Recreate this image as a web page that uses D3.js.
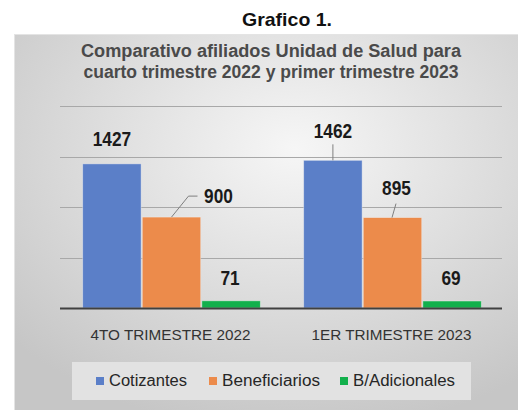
<!DOCTYPE html>
<html>
<head>
<meta charset="utf-8">
<script src="https://cdn.jsdelivr.net/npm/d3@7"></script>
<style>
  body { margin: 0; background: #fff; }
  text { font-family: "Liberation Sans", Arial, sans-serif; }
  .narrow { font-family: "Liberation Sans Narrow", "Arial Narrow", "Liberation Sans", sans-serif; }
</style>
</head>
<body>
<div id="chart"></div>
<script>
// Data
var categories = ["4TO TRIMESTRE 2022", "1ER TRIMESTRE 2023"];
var series = ["Cotizantes", "Beneficiarios", "B/Adicionales"];
var cotizantes = [1427, 1462];
var beneficiarios = [900, 895];
var adicionales = [71, 69];
var yTicks = [0, 500, 1000, 1500, 2000];
var colors = ["#5b7fc8", "#ec8b4b", "#12b04c"];

var width = 518, height = 410;

var svg = d3.select("#chart").append("svg")
    .attr("width", width)
    .attr("height", height);

// Background gradient
var defs = svg.append("defs");
var grad = defs.append("radialGradient")
    .attr("id", "bg")
    .attr("cx", "55%").attr("cy", "30%").attr("r", "75%");
grad.append("stop").attr("offset", "0%").attr("stop-color", "#f6f6f6");
grad.append("stop").attr("offset", "100%").attr("stop-color", "#c6c6c6");

svg.append("rect")
    .attr("x", 14.5).attr("y", 34.5)
    .attr("width", 510).attr("height", 380)
    .attr("fill", "url(#bg)")
    .attr("stroke", "#e4e4e4");

// Titles
svg.append("text")
    .attr("class", "narrow")
    .attr("x", 287).attr("y", 26)
    .attr("text-anchor", "middle")
    .attr("textLength", 90)
    .attr("lengthAdjust", "spacingAndGlyphs")
    .style("font-weight", "bold").style("font-size", "19px")
    .attr("fill", "#111")
    .text("Grafico 1.");

var t1 = ["Comparativo afiliados Unidad de Salud para",
          "cuarto trimestre 2022 y primer trimestre 2023"];
svg.selectAll(".ttl").data(t1).enter().append("text")
    .attr("class", "ttl narrow")
    .attr("x", 271)
    .attr("y", function (d, i) { return 57 + i * 21; })
    .attr("text-anchor", "middle")
    .attr("textLength", function (d, i) { return i === 0 ? 380 : 375; })
    .attr("lengthAdjust", "spacingAndGlyphs")
    .style("font-weight", "bold").style("font-size", "18px")
    .attr("fill", "#4a4a4a")
    .text(function (d) { return d; });

// Scales
var margin = { left: 60, right: 502, top: 106, bottom: 308 };
var x0 = d3.scaleBand().domain(categories)
    .range([margin.left, margin.right]).paddingInner(0).paddingOuter(0);
var x1 = d3.scaleBand().domain(series)
    .range([21.5, x0.bandwidth() - 19.5]).padding(0.02);
var y = d3.scaleLinear().domain([0, 2000]).range([margin.bottom, margin.top]);

// Gridlines
svg.append("g").selectAll("line")
    .data(yTicks.slice(1)).enter().append("line")
    .attr("x1", margin.left).attr("x2", margin.right)
    .attr("y1", function (d) { return Math.round(y(d)) + 0.5; })
    .attr("y2", function (d) { return Math.round(y(d)) + 0.5; })
    .attr("stroke", "#a8a8a8").attr("stroke-width", 1);

// Bars
var rows = categories.map(function (c, i) {
    return [
        { cat: c, s: series[0], v: cotizantes[i], ci: 0 },
        { cat: c, s: series[1], v: beneficiarios[i], ci: 1 },
        { cat: c, s: series[2], v: adicionales[i], ci: 2 }
    ];
});

var groups = svg.append("g").selectAll("g")
    .data(rows).enter().append("g")
    .attr("transform", function (d, i) { return "translate(" + x0(categories[i]) + ",0)"; });

groups.selectAll("rect")
    .data(function (d) { return d; }).enter().append("rect")
    .attr("x", function (d) { return x1(d.s); })
    .attr("width", x1.bandwidth())
    .attr("y", function (d) { return y(d.v); })
    .attr("height", function (d) { return y(0) - y(d.v); })
    .attr("fill", function (d) { return colors[d.ci]; })
    .attr("stroke", "#f4f4f4").attr("stroke-opacity", 0.5).attr("stroke-width", 0.8);

// Axis line
svg.append("line")
    .attr("x1", margin.left).attr("x2", margin.right)
    .attr("y1", 308.5).attr("y2", 308.5)
    .attr("stroke", "#404040").attr("stroke-width", 2);

// Data labels (offsets from bar center / top)
var labelOffsets = [
    [[0, -18], [17, -21], [-1, -16]],
    [[0, -29], [4, -32], [-1, -16]]
];
groups.each(function (row, gi) {
    var g = d3.select(this);
    row.forEach(function (d, si) {
        var cx = x1(d.s) + x1.bandwidth() / 2;
        var top = y(d.v);
        var off = labelOffsets[gi][si];
        var lx = cx + off[0], ly = top + off[1];
        // leader lines
        if (gi === 0 && si === 1) {
            g.append("path")
                .attr("d", "M" + (cx) + "," + top + "L" + (cx + 17) + "," + (top - 21) + "L" + (cx + 26) + "," + (top - 21))
                .attr("fill", "none").attr("stroke", "#7f7f7f");
            lx = cx + 47; ly = top - 14;
        }
        if (gi === 1 && si === 0) {
            g.append("line")
                .attr("x1", cx).attr("x2", cx)
                .attr("y1", top).attr("y2", top - 16)
                .attr("stroke", "#7f7f7f");
        }
        if (gi === 1 && si === 1) {
            g.append("line")
                .attr("x1", cx - 0.5).attr("x2", cx + 3.5)
                .attr("y1", top).attr("y2", top - 14)
                .attr("stroke", "#7f7f7f");
            ly = top - 23;
        }
        if (gi === 1 && si === 0) ly = top - 22;
        var str = String(d.v);
        g.append("text")
            .attr("class", "narrow")
            .attr("x", lx).attr("y", ly)
            .attr("text-anchor", "middle")
            .attr("textLength", str.length * 9.6)
            .attr("lengthAdjust", "spacingAndGlyphs")
            .style("font-weight", "bold").style("font-size", "20px")
            .attr("fill", "#1a1a1a")
            .text(str);
    });
});

// Category labels
svg.append("g").selectAll("text")
    .data(categories).enter().append("text")
    .attr("x", function (d) { return x0(d) + x0.bandwidth() / 2; })
    .attr("y", 340)
    .attr("text-anchor", "middle")
    .attr("textLength", 160)
    .attr("lengthAdjust", "spacingAndGlyphs")
    .style("font-size", "15px")
    .attr("fill", "#333")
    .text(function (d) { return d; });

// Legend
var lg = svg.append("g");
lg.append("rect")
    .attr("x", 72).attr("y", 362).attr("width", 399).attr("height", 38)
    .attr("fill", "#e2e2e2");
var legendX = [96, 209, 340];
var legendW = [78, 98, 102];
var item = lg.selectAll(".item").data(series).enter().append("g")
    .attr("transform", function (d, i) { return "translate(" + legendX[i] + ",377)"; });
item.append("rect")
    .attr("width", 8).attr("height", 8)
    .attr("fill", function (d, i) { return colors[i]; });
item.append("text")
    .attr("x", 13).attr("y", 9)
    .attr("textLength", function (d, i) { return legendW[i]; })
    .attr("lengthAdjust", "spacingAndGlyphs")
    .style("font-size", "16px")
    .attr("fill", "#262626")
    .text(function (d) { return d; });
</script>
</body>
</html>
